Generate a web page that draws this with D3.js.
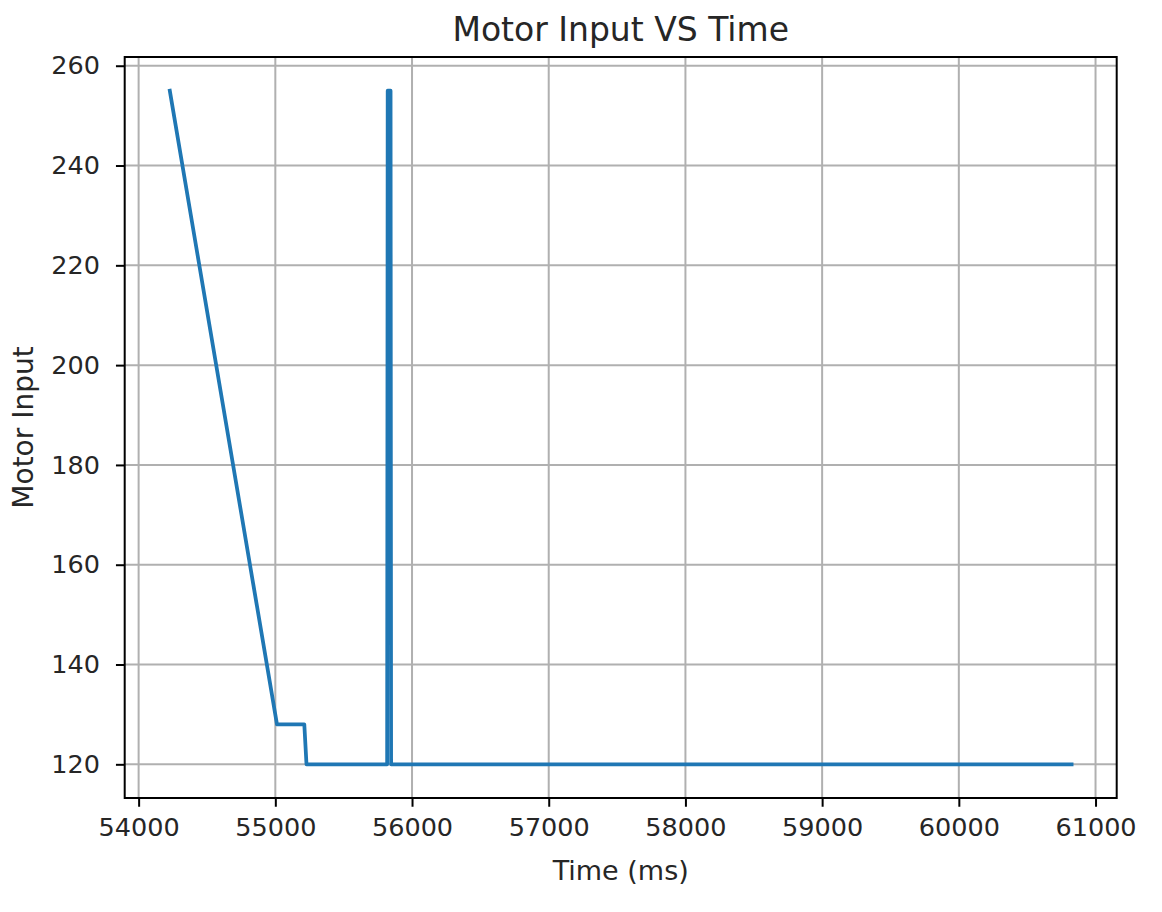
<!DOCTYPE html>
<html>
<head>
<meta charset="utf-8">
<script src="https://cdn.jsdelivr.net/npm/d3@7"></script>
<style>
  html, body { margin: 0; padding: 0; background: #fff; }
  text { font-family: "DejaVu Sans", sans-serif; fill: #262626; }
</style>
</head>
<body>
<svg id="chart" width="1162" height="912"></svg>
<script>
// Data
const timeMs = [54228, 55012, 55212, 55228, 55818, 55822, 55843, 55847, 60825];
const motorInput = [255, 128, 128, 120, 120, 255, 255, 120, 120];
const xTicks = [54000, 55000, 56000, 57000, 58000, 59000, 60000, 61000];
const yTicks = [120, 140, 160, 180, 200, 220, 240, 260];
const title = "Motor Input VS Time";
const xLabel = "Time (ms)";
const yLabel = "Motor Input";

const data = timeMs.map((t, i) => ({ t, v: motorInput[i] }));

const svg = d3.select("#chart");
const L = 124.7, R = 1116.7, T = 57, B = 798;

const xmin = d3.min(timeMs), xmax = d3.max(timeMs);
const ymin = d3.min(motorInput), ymax = d3.max(motorInput);
const xm = (xmax - xmin) * 0.05, ym = (ymax - ymin) * 0.05;

const x = d3.scaleLinear().domain([xmin - xm, xmax + xm]).range([L, R]);
const y = d3.scaleLinear().domain([ymin - ym, ymax + ym]).range([B, T]);

// grid
const grid = svg.append("g");
grid.selectAll("line.vx").data(xTicks).join("line")
  .attr("x1", d => x(d)).attr("x2", d => x(d))
  .attr("y1", T).attr("y2", B)
  .attr("stroke", "#b0b0b0").attr("stroke-width", 2);
grid.selectAll("line.hy").data(yTicks).join("line")
  .attr("x1", L).attr("x2", R)
  .attr("y1", d => y(d)).attr("y2", d => y(d))
  .attr("stroke", "#b0b0b0").attr("stroke-width", 2);

// line
const line = d3.line().x(d => x(d.t)).y(d => y(d.v));
svg.append("path").datum(data)
  .attr("d", line)
  .attr("fill", "none")
  .attr("stroke", "#1f77b4")
  .attr("stroke-width", 3.75)
  .attr("stroke-linejoin", "round")
  .attr("stroke-linecap", "square");

// frame
svg.append("rect").attr("x", L).attr("y", T).attr("width", R - L).attr("height", B - T)
  .attr("fill", "none").attr("stroke", "#000").attr("stroke-width", 2);

// axes
const xAxis = d3.axisBottom(x).tickValues(xTicks).tickFormat(d3.format("d"))
  .tickSize(8.75).tickPadding(11);
const gx = svg.append("g").attr("transform", `translate(0,${B})`).call(xAxis);
gx.select(".domain").remove();
gx.selectAll(".tick line").attr("stroke", "#000").attr("stroke-width", 2);
gx.selectAll(".tick text").style("font-size", "25.5px").style("font-family", "DejaVu Sans").attr("fill", "#262626");

const yAxis = d3.axisLeft(y).tickValues(yTicks).tickFormat(d3.format("d"))
  .tickSize(8.75).tickPadding(16);
const gy = svg.append("g").attr("transform", `translate(${L},0)`).call(yAxis);
gy.select(".domain").remove();
gy.selectAll(".tick line").attr("stroke", "#000").attr("stroke-width", 2);
gy.selectAll(".tick text").style("font-size", "25.5px").style("font-family", "DejaVu Sans").attr("fill", "#262626");

// labels
svg.append("text").attr("x", (L + R) / 2).attr("y", 41)
  .attr("text-anchor", "middle").style("font-size", "33px").text(title);
svg.append("text").attr("x", (L + R) / 2).attr("y", 880)
  .attr("text-anchor", "middle").style("font-size", "27px").text(xLabel);
svg.append("text").attr("transform", `translate(33,${(T + B) / 2}) rotate(-90)`)
  .attr("text-anchor", "middle").style("font-size", "28px").text(yLabel);
</script>
</body>
</html>
